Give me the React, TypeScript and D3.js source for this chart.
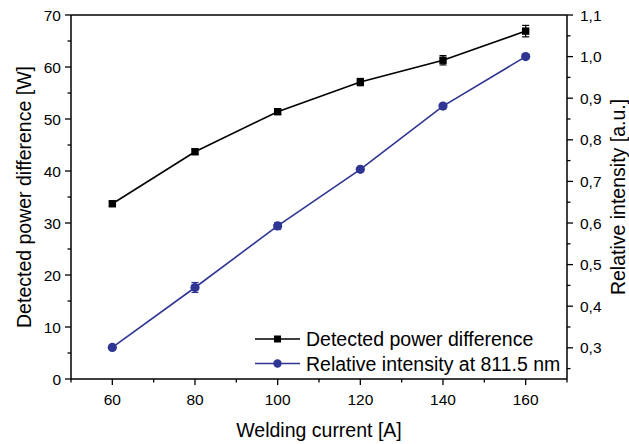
import React from "react";
import * as d3 from "d3";

const currents = [60, 80, 100, 120, 140, 160];
const powerDiff = [33.7, 43.7, 51.4, 57.1, 61.3, 66.9];
const powerErr = [0.5, 0.5, 0.5, 0.7, 0.9, 1.1];
const intensity = [0.301, 0.445, 0.593, 0.729, 0.881, 1.0];
const intensityErr = [0.003, 0.012, 0.008, 0.004, 0.004, 0.003];
const xTicks = [60, 80, 100, 120, 140, 160];
const yLeftTicks = [0, 10, 20, 30, 40, 50, 60, 70];
const yRightTicks = [0.3, 0.4, 0.5, 0.6, 0.7, 0.8, 0.9, 1.0, 1.1];
const legendLabels = ["Detected power difference", "Relative intensity at 811.5 nm"];

const W = 629, H = 444;
const left = 71, right = 567, top = 15, bottom = 379;
const BLUE = "#2e3593";
const FONT = "'Liberation Sans', Arial, sans-serif";
const TICK_FS = 15.5;
const TITLE_FS = 19.5;

export default function App() {
  const x = d3.scaleLinear().domain([50, 170]).range([left, right]);
  const yL = d3.scaleLinear().domain([0, 70]).range([bottom, top]);
  const yR = d3.scaleLinear().domain([1.1 - 0.875, 1.1]).range([bottom, top]);

  const lineP = d3.line<number>().x((_, i) => x(currents[i])).y((d) => yL(d));
  const lineI = d3.line<number>().x((_, i) => x(currents[i])).y((d) => yR(d));

  const xMinor = d3.range(50, 171, 10).filter((v) => v % 20 !== 0);
  const yLMinor = d3.range(5, 70, 10);
  const yRMinor = d3.range(0.25, 1.1, 0.1);

  const fmtR = (v: number) => v.toFixed(1).replace(".", ",");

  return (
    <svg width={W} height={H} style={{ position: "absolute", left: 0, top: 0, background: "#fff" }} fontFamily={FONT}>
      <rect width={W} height={H} fill="#fff" />
      {/* frame */}
      <line x1={left} x2={right} y1={top} y2={top} stroke="#000" strokeWidth={1.5} />
      <line x1={left} x2={right} y1={bottom} y2={bottom} stroke="#000" strokeWidth={1.5} />
      <line x1={left} x2={left} y1={top} y2={bottom} stroke="#000" strokeWidth={1.5} />
      <line x1={right} x2={right} y1={top} y2={bottom} stroke="#000" strokeWidth={1.5} />

      {/* x ticks */}
      {xTicks.map((t) => (
        <g key={"x" + t}>
          <line x1={x(t)} x2={x(t)} y1={bottom} y2={bottom + 6} stroke="#000" strokeWidth={1.3} />
          <text x={x(t)} y={405} fontSize={TICK_FS} textAnchor="middle" fill="#000">{t}</text>
        </g>
      ))}
      {xMinor.map((t) => (
        <line key={"xm" + t} x1={x(t)} x2={x(t)} y1={bottom} y2={bottom + 3.5} stroke="#000" strokeWidth={1.3} />
      ))}

      {/* left ticks */}
      {yLeftTicks.map((t) => (
        <g key={"yl" + t}>
          <line x1={left - 6} x2={left} y1={yL(t)} y2={yL(t)} stroke="#000" strokeWidth={1.3} />
          <text x={left - 10} y={yL(t) + 5.5} fontSize={TICK_FS} textAnchor="end" fill="#000">{t}</text>
        </g>
      ))}
      {yLMinor.map((t) => (
        <line key={"ylm" + t} x1={left - 3.5} x2={left} y1={yL(t)} y2={yL(t)} stroke="#000" strokeWidth={1.3} />
      ))}

      {/* right ticks */}
      {yRightTicks.map((t) => (
        <g key={"yr" + t}>
          <line x1={right} x2={right + 6} y1={yR(t)} y2={yR(t)} stroke="#000" strokeWidth={1.3} />
          <text x={right + 13} y={yR(t) + 5.5} fontSize={TICK_FS} textAnchor="start" fill="#000">{fmtR(t)}</text>
        </g>
      ))}
      {yRMinor.map((t, i) => (
        <line key={"yrm" + i} x1={right} x2={right + 3.5} y1={yR(t)} y2={yR(t)} stroke="#000" strokeWidth={1.3} />
      ))}

      {/* axis titles */}
      <text x={(left + right) / 2} y={437} fontSize={TITLE_FS} textAnchor="middle" fill="#000">Welding current [A]</text>
      <text transform={`translate(31,${(top + bottom) / 2}) rotate(-90)`} fontSize={TITLE_FS} textAnchor="middle" fill="#000">Detected power difference [W]</text>
      <text transform={`translate(625,${(top + bottom) / 2}) rotate(-90)`} fontSize={TITLE_FS} textAnchor="middle" fill="#000">Relative intensity [a.u.]</text>

      {/* series: power */}
      <path d={lineP(powerDiff) || ""} fill="none" stroke="#000" strokeWidth={1.6} />
      {powerDiff.map((v, i) => {
        const cx = x(currents[i]);
        const e1 = yL(v + powerErr[i]), e2 = yL(v - powerErr[i]);
        return (
          <g key={"p" + i}>
            <line x1={cx} x2={cx} y1={e1} y2={e2} stroke="#000" strokeWidth={1.2} />
            <line x1={cx - 3.5} x2={cx + 3.5} y1={e1} y2={e1} stroke="#000" strokeWidth={1.2} />
            <line x1={cx - 3.5} x2={cx + 3.5} y1={e2} y2={e2} stroke="#000" strokeWidth={1.2} />
            <rect x={cx - 3.7} y={yL(v) - 3.7} width={7.4} height={7.4} fill="#000" />
          </g>
        );
      })}

      {/* series: intensity */}
      <path d={lineI(intensity) || ""} fill="none" stroke={BLUE} strokeWidth={1.6} />
      {intensity.map((v, i) => {
        const cx = x(currents[i]);
        const e1 = yR(v + intensityErr[i]), e2 = yR(v - intensityErr[i]);
        return (
          <g key={"i" + i}>
            <line x1={cx} x2={cx} y1={e1} y2={e2} stroke={BLUE} strokeWidth={1.2} />
            <line x1={cx - 3.5} x2={cx + 3.5} y1={e1} y2={e1} stroke={BLUE} strokeWidth={1.2} />
            <line x1={cx - 3.5} x2={cx + 3.5} y1={e2} y2={e2} stroke={BLUE} strokeWidth={1.2} />
            <circle cx={cx} cy={yR(v)} r={4.6} fill={BLUE} />
          </g>
        );
      })}

      {/* legend */}
      {legendLabels.map((lab, i) => {
        const ly = 339 + i * 24.5;
        const col = i === 0 ? "#000" : BLUE;
        return (
          <g key={"lg" + i}>
            <line x1={255} x2={300} y1={ly} y2={ly} stroke={col} strokeWidth={1.6} />
            {i === 0 ? (
              <rect x={277.5 - 3.5} y={ly - 3.5} width={7} height={7} fill={col} />
            ) : (
              <circle cx={277.5} cy={ly} r={4.2} fill={col} />
            )}
            <text x={306} y={ly + 7} fontSize={TITLE_FS} fill="#000">{lab}</text>
          </g>
        );
      })}
    </svg>
  );
}
